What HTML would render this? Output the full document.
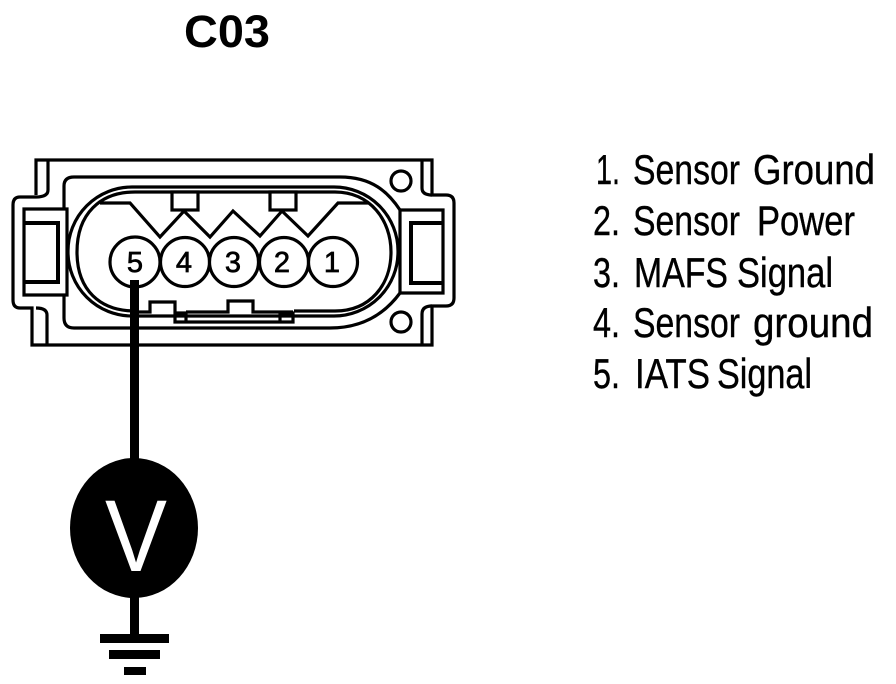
<!DOCTYPE html>
<html><head><meta charset="utf-8"><style>
html,body{margin:0;padding:0;background:#fff}
svg{display:block}
text{font-family:"Liberation Sans",sans-serif;fill:#000}
.l{font-size:42px;stroke:#000;stroke-width:.4px}
.n{font-size:29px;text-anchor:middle;stroke:#000;stroke-width:.7px}
</style></head><body>
<svg width="896" height="684" viewBox="0 0 896 684" xmlns="http://www.w3.org/2000/svg">
<text x="184" y="47" font-size="45" font-weight="bold" textLength="86" lengthAdjust="spacingAndGlyphs">C03</text>
<g fill="none" stroke="#000" stroke-width="3.2">
<path d="M36 195V160H432V195H446Q454 195 454 203V298Q454 306 446 306H432V345H32V308H20Q13 308 13 300V205Q13 197 20 197H36Q48 197 48 190V160"/>
<path d="M422 160V188Q422 195 432 195M422 345V314Q422 306 432 306M47 345V315Q47 308 36 308"/>
<path d="M64 209V186Q64 177 74 177H340C372 177 388 192 400 210M64 295V318Q64 328 74 328H330C365 328 386 312 400 293"/>
<path d="M24 209H67V295H24Z"/>
<path d="M24 223H58V282H24" stroke-width="4"/>
<path d="M400 210H443V293H400Z"/>
<path d="M443 223H411V283H443" stroke-width="4"/>
<rect x="68" y="187" width="330" height="129" rx="64" ry="64"/>
<path d="M135 311C100 311 77 290 77 252C77 214 100 192 135 192H335C370 192 391 220 391 252C391 285 370 311 335 311H294"/>
<path d="M100 203H130L160 237L184 211L210 237L233 211L260 236L282 211L308 236L338 203H368"/>
<rect x="172" y="192" width="26" height="18" fill="#fff"/>
<rect x="270" y="192" width="26" height="18" fill="#fff"/>
<path d="M135 312H150V302H175V322H293V313H280V322M175 313H186V322M186 312H228V301H253V312H293"/>
<circle cx="401" cy="181" r="10"/>
<circle cx="401" cy="322" r="10"/>
<circle cx="135" cy="262" r="25" fill="#fff"/>
<circle cx="185" cy="262" r="24.5" fill="#fff"/>
<circle cx="234" cy="262" r="24.5" fill="#fff"/>
<circle cx="284" cy="262" r="24.5" fill="#fff"/>
<circle cx="333" cy="262" r="24.5" fill="#fff"/>
</g>
<text class="n" x="135" y="272">5</text>
<text class="n" x="184" y="272">4</text>
<text class="n" x="233" y="272">3</text>
<text class="n" x="282" y="272">2</text>
<text class="n" x="332" y="272">1</text>
<rect x="130" y="280" width="9" height="355"/>
<ellipse cx="134" cy="528" rx="64" ry="70"/>
<text x="105" y="571" font-size="102" textLength="62" lengthAdjust="spacingAndGlyphs" style="fill:#fff">V</text>
<rect x="100" y="634" width="69" height="9"/>
<rect x="109" y="650" width="51" height="9"/>
<rect x="124" y="667" width="22" height="8"/>
<text class="l" x="596" y="184" textLength="24" lengthAdjust="spacingAndGlyphs">1.</text>
<text class="l" x="633" y="184" textLength="107" lengthAdjust="spacingAndGlyphs">Sensor</text>
<text class="l" x="753" y="184" textLength="122" lengthAdjust="spacingAndGlyphs">Ground</text>
<text class="l" x="593" y="235" textLength="27" lengthAdjust="spacingAndGlyphs">2.</text>
<text class="l" x="633" y="235" textLength="107" lengthAdjust="spacingAndGlyphs">Sensor</text>
<text class="l" x="757" y="235" textLength="98" lengthAdjust="spacingAndGlyphs">Power</text>
<text class="l" x="593" y="287" textLength="27" lengthAdjust="spacingAndGlyphs">3.</text>
<text class="l" x="634" y="287" textLength="94" lengthAdjust="spacingAndGlyphs">MAFS</text>
<text class="l" x="737" y="287" textLength="96" lengthAdjust="spacingAndGlyphs">Signal</text>
<text class="l" x="593" y="337" textLength="27" lengthAdjust="spacingAndGlyphs">4.</text>
<text class="l" x="633" y="337" textLength="107" lengthAdjust="spacingAndGlyphs">Sensor</text>
<text class="l" x="753" y="337" textLength="120" lengthAdjust="spacingAndGlyphs">ground</text>
<text class="l" x="593" y="388" textLength="27" lengthAdjust="spacingAndGlyphs">5.</text>
<text class="l" x="635" y="388" textLength="75" lengthAdjust="spacingAndGlyphs">IATS</text>
<text class="l" x="717" y="388" textLength="95" lengthAdjust="spacingAndGlyphs">Signal</text>
</svg>
</body></html>
